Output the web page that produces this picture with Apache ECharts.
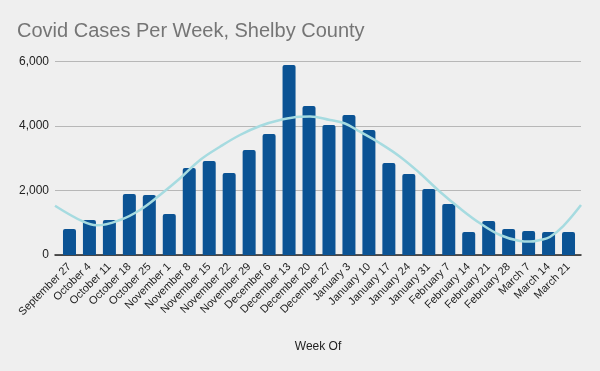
<!DOCTYPE html>
<html>
<head>
<meta charset="utf-8">
<script src="https://cdn.jsdelivr.net/npm/echarts@6/dist/echarts.min.js"></script>
<style>
  html, body { margin: 0; padding: 0; background: #efefef; }
  #chart { width: 600px; height: 371px; }
</style>
</head>
<body>
<div id="chart"></div>
<script>
const weeks = ["September 27", "October 4", "October 11", "October 18", "October 25",
  "November 1", "November 8", "November 15", "November 22", "November 29",
  "December 6", "December 13", "December 20", "December 27", "January 3",
  "January 10", "January 17", "January 24", "January 31", "February 7",
  "February 14", "February 21", "February 28", "March 7", "March 14", "March 21"];
const cases = [806, 1085, 1082, 1890, 1860, 1271, 2696, 2913, 2541, 3254,
  3750, 5888, 4617, 4028, 4338, 3873, 2851, 2510, 2045, 1580,
  713, 1054, 806, 744, 713, 713];
// trend line: position in week units, cases
const trendWeek = [-0.73, 0.69, 1.36, 2.53, 3.53, 4.53, 5.54, 6.54, 7.54, 8.54,
  9.54, 10.55, 11.55, 12.05, 13.05, 13.8, 14.55, 15.56, 16.56, 17.56,
  18.56, 19.56, 20.57, 21.57, 22.57, 23.07, 23.57, 24.07, 24.74, 25.63];
const trendCases = [1527, 1031, 920, 1084, 1394, 1859, 2376, 2943, 3355, 3717,
  3996, 4182, 4284, 4290, 4182, 4073, 3819, 3460, 3045, 2531,
  1961, 1447, 982, 620, 434, 415, 465, 558, 898, 1549];
const yTicks = [0, 2000, 4000, 6000];

const font = 'Arial, "Liberation Sans", sans-serif';
const chart = echarts.init(document.getElementById('chart'));
chart.setOption({
  animation: false,
  backgroundColor: '#efefef',
  title: {
    text: 'Covid Cases Per Week, Shelby County',
    left: 17, top: 21, padding: 0,
    textStyle: { color: '#757575', fontSize: 20, fontWeight: 'normal', fontFamily: font }
  },
  grid: [
    { left: 55, right: 19, top: 61.3, bottom: 116 },
    { left: 59.5, right: 21.5, top: 61.3, bottom: 116 }
  ],
  xAxis: [
    {
      type: 'value', gridIndex: 0, min: -0.73, max: 25.63,
      axisLine: { show: true, onZero: false, lineStyle: { color: '#222', width: 1.5 } },
      axisTick: { show: false }, axisLabel: { show: false }, splitLine: { show: false },
      name: 'Week Of', nameLocation: 'middle', nameGap: 86,
      nameTextStyle: { color: '#222', fontSize: 12, fontFamily: font }
    },
    {
      type: 'category', gridIndex: 1, data: weeks,
      axisLine: { show: false }, axisTick: { show: false },
      axisLabel: { interval: 0, rotate: 45, margin: 10, color: '#222', fontSize: 11, fontFamily: font }
    }
  ],
  yAxis: [
    {
      type: 'value', gridIndex: 0, min: yTicks[0], max: yTicks[yTicks.length - 1], interval: 2000,
      axisLine: { show: false }, axisTick: { show: false },
      axisLabel: { color: '#222', fontSize: 12, fontFamily: font, margin: 6,
        formatter: v => v.toLocaleString('en-US') },
      splitLine: { lineStyle: { color: '#b7b7b7', width: 1 } }
    },
    {
      type: 'value', gridIndex: 1, min: 0, max: 6000, show: false
    }
  ],
  series: [
    {
      type: 'bar', xAxisIndex: 1, yAxisIndex: 1, data: cases,
      barWidth: 13,
      itemStyle: { color: '#0b5394', borderRadius: [2, 2, 0, 0] },
      z: 2
    },
    {
      type: 'line', xAxisIndex: 0, yAxisIndex: 0,
      data: trendWeek.map((w, i) => [w, trendCases[i]]),
      smooth: 0.4, symbol: 'none',
      lineStyle: { color: '#a6dbe0', width: 2.5 },
      z: 3
    }
  ]
});
</script>
</body>
</html>
